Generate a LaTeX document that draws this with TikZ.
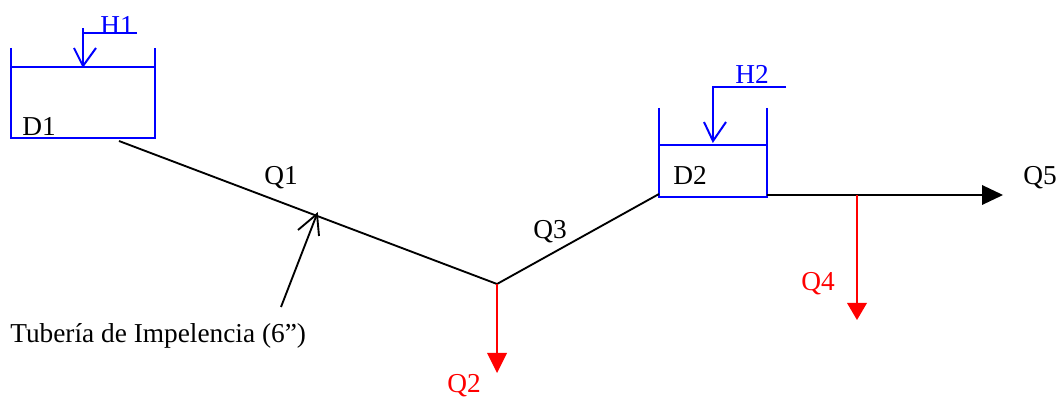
\documentclass[tikz,border=0pt]{standalone}
\usepackage{fontspec}
\setmainfont{Liberation Serif}
\definecolor{tblue}{RGB}{0,0,255}
\definecolor{tred}{RGB}{255,0,0}
\tikzset{
  x=0.75pt,y=-0.75pt,
  bluel/.style={draw=tblue,line width=1.5pt,line cap=butt},
  blackl/.style={draw=black,line width=1.4pt},
  redl/.style={draw=tred,line width=1.6pt},
  lab/.style={font=\fontsize{20.5}{22}\selectfont,inner sep=0pt,anchor=center},
  blab/.style={lab,text=tblue},
  rlab/.style={lab,text=tred},
}
\begin{document}
\begin{tikzpicture}
\useasboundingbox (0,0) rectangle (1060,398);
% coordinates
\coordinate (d1tl) at (11,48);
\coordinate (d1tr) at (155,48);
\coordinate (d1bl) at (11,138);
\coordinate (d1br) at (155,138);
\coordinate (d1wl) at (11,67);
\coordinate (d1wr) at (155,67);
\coordinate (h1a) at (137,33);
\coordinate (h1b) at (83,33);
\coordinate (h1c) at (83,28);
\coordinate (h1t) at (83,66);
\coordinate (h1l) at (74,48);
\coordinate (h1r) at (96,48);
\coordinate (d2tl) at (659,108);
\coordinate (d2tr) at (767,108);
\coordinate (d2bl) at (659,198);
\coordinate (d2br) at (767,198);
\coordinate (d2wl) at (659,145);
\coordinate (d2wr) at (767,145);
\coordinate (d2fl) at (659,197);
\coordinate (d2fr) at (767,197);
\coordinate (h2a) at (786,87);
\coordinate (h2b) at (713,87);
\coordinate (h2t) at (713,141);
\coordinate (h2l) at (704,122);
\coordinate (h2r) at (726,122);
\coordinate (p0) at (119,141);
\coordinate (j1) at (497,284);
\coordinate (p1) at (659,194);
\coordinate (o0) at (767,195);
\coordinate (o1) at (982,195);
\coordinate (o2) at (1003,195);
\coordinate (j2) at (857,195);
\coordinate (lead0) at (281,307);
\coordinate (leadt) at (317,214);
\coordinate (leadl) at (298,230);
\coordinate (leadr) at (319,236);
% tanks
\draw[bluel] (d1tl) -- (d1bl) -- (d1br) -- (d1tr);
\draw[bluel] (d1wl) -- (d1wr);
\draw[bluel] (h1a) -- (h1b) -- (h1c);
\draw[bluel] (h1b) -- (h1t);
\draw[bluel] (h1l) -- (h1t) -- (h1r);
\draw[bluel] (d2tl) -- (d2bl);
\draw[bluel] (d2tr) -- (d2br);
\draw[bluel] (d2wl) -- (d2wr);
\draw[bluel] (d2fl) -- (d2fr);
\draw[bluel] (h2a) -- (h2b) -- (h2t);
\draw[bluel] (h2l) -- (h2t) -- (h2r);
% pipes
\draw[blackl] (p0) -- (j1) -- (p1);
\draw[blackl,line width=1.8pt] (o0) -- (o1);
\fill[black] (982,185) -- (o2) -- (982,205) -- cycle;
\draw[blackl] (lead0) -- (leadt);
\draw[blackl] (leadl) -- (leadt) -- (leadr);
% red branches
\coordinate (q2b) at (497,353);
\coordinate (q4e) at (857,303);
\draw[redl] (j1) -- (q2b);
\fill[tred] (487,353) -- (497,373) -- (507,353) -- cycle;
\draw[redl] (j2) -- (q4e);
\fill[tred] (847,303) -- (857,320) -- (867,303) -- cycle;
% labels
\node[blab] (H1) at (117,25) {H1};
\node[blab] (H2) at (752,74) {H2};
\node[lab] (D1) at (39,127) {D1};
\node[lab] (D2) at (690,175) {D2};
\node[lab] (Q1) at (281,178) {Q1};
\node[lab] (Q3) at (550,232) {Q3};
\node[lab] (Q5) at (1040,178) {Q5};
\node[rlab] (Q2) at (464,386) {Q2};
\node[rlab] (Q4) at (818,284) {Q4};
\node[lab,anchor=west] (T) at (10,336) {Tubería de Impelencia (6”)};
\end{tikzpicture}
\end{document}
